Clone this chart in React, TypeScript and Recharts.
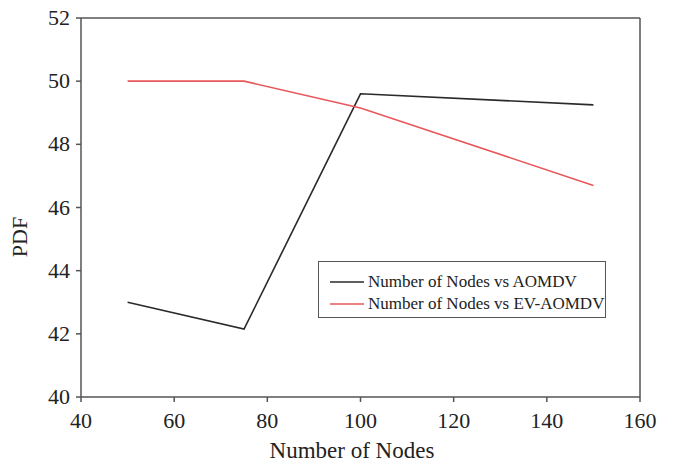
import React from 'react';
import { LineChart, Line, XAxis, YAxis, ReferenceLine, Legend, Label } from 'recharts';

const nodes = [50, 75, 100, 150];
const aomdv = [43, 42.15, 49.6, 49.25];
const evAomdv = [50, 50, 49.15, 46.7];
const xTicks = [40, 60, 80, 100, 120, 140, 160];
const yTicks = [40, 42, 44, 46, 48, 50, 52];

const SERIES = [
  { key: 'aomdv', name: 'Number of Nodes vs AOMDV', color: '#2a2a2a' },
  { key: 'evAomdv', name: 'Number of Nodes vs EV-AOMDV', color: '#e8575b' },
];

const data = nodes.map((n, i) => ({ nodes: n, aomdv: aomdv[i], evAomdv: evAomdv[i] }));

const FONT = '"Liberation Serif", "Times New Roman", serif';
const AXIS = '#555';

// tick text drawn by hand so the serif face actually sticks
const XTick = ({ x, y, payload }: any) => (
  <text x={x} y={y + 24} textAnchor="middle" fontFamily={FONT} fontSize={22} fill="#222">
    {payload.value}
  </text>
);

const YTick = ({ x, y, payload }: any) => (
  <text x={x - 4} y={y + 7} textAnchor="end" fontFamily={FONT} fontSize={22} fill="#222">
    {payload.value}
  </text>
);

function LegendBox() {
  return (
    <div
      style={{
        width: 286,
        height: 55,
        border: `1.5px solid ${AXIS}`,
        background: '#fff',
        fontFamily: FONT,
        fontSize: 17,
        color: '#222',
        boxSizing: 'content-box',
      }}
    >
      {SERIES.map((s, i) => (
        <div
          key={s.key}
          style={{ position: 'absolute', left: 12, top: 10 + i * 22, height: 22, display: 'flex', alignItems: 'center', whiteSpace: 'nowrap' }}
        >
          <svg width={34} height={4} style={{ marginRight: 4 }}>
            <line x1={0} y1={2} x2={34} y2={2} stroke={s.color} strokeWidth={1.5} />
          </svg>
          <span>{s.name}</span>
        </div>
      ))}
    </div>
  );
}

export default function App() {
  return (
    <div style={{ position: 'absolute', left: 0, top: 0, width: 676, height: 464, background: '#fff', fontFamily: FONT }}>
      <LineChart width={676} height={464} data={data} margin={{ top: 18, right: 36, bottom: 0, left: 0 }}>
        <XAxis
          dataKey="nodes"
          type="number"
          domain={[40, 160]}
          ticks={xTicks}
          height={67}
          stroke={AXIS}
          strokeWidth={1.5}
          tickSize={5}
          tick={(p: any) => <XTick {...p} />}
        >
          <Label
            content={() => (
              <text x={352} y={458} textAnchor="middle" fontFamily={FONT} fontSize={23} fill="#222">
                Number of Nodes
              </text>
            )}
          />
        </XAxis>
        <YAxis
          type="number"
          domain={[40, 52]}
          ticks={yTicks}
          width={81}
          stroke={AXIS}
          strokeWidth={1.5}
          tickSize={5}
          tick={(p: any) => <YTick {...p} />}
        >
          <Label
            content={() => (
              <text x={27} y={237} transform="rotate(-90, 27, 237)" textAnchor="middle" fontFamily={FONT} fontSize={22} fill="#222">
                PDF
              </text>
            )}
          />
        </YAxis>
        <ReferenceLine y={52} stroke={AXIS} strokeWidth={1.5} />
        <ReferenceLine x={160} stroke={AXIS} strokeWidth={1.5} />
        {SERIES.map((s) => (
          <Line
            key={s.key}
            type="linear"
            dataKey={s.key}
            name={s.name}
            stroke={s.color}
            strokeWidth={1.6}
            dot={false}
            activeDot={false}
            isAnimationActive={false}
          />
        ))}
        <Legend
          layout="horizontal"
          align="center"
          verticalAlign="middle"
          content={() => <LegendBox />}
          wrapperStyle={{ left: 318, top: 261, width: 289, height: 58 }}
        />
      </LineChart>
    </div>
  );
}
